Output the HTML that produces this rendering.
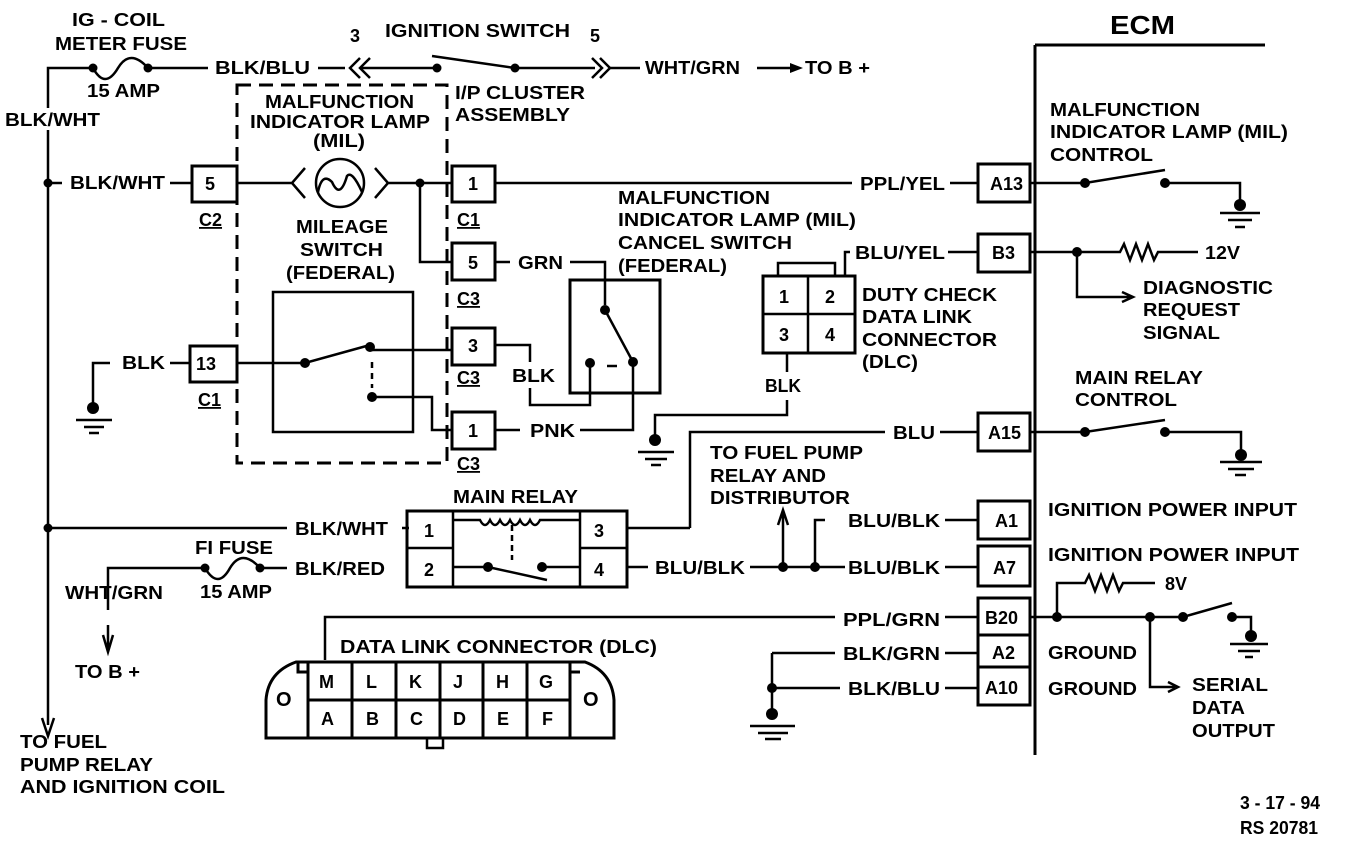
<!DOCTYPE html>
<html><head><meta charset="utf-8"><style>
html,body{margin:0;padding:0;background:#fff;}
svg text{font-family:"Liberation Sans",Arial,sans-serif;font-weight:bold;font-size:18px;fill:#000;}
</style></head><body>
<svg width="1360" height="844" viewBox="0 0 1360 844" xmlns="http://www.w3.org/2000/svg">
<g stroke="#000" stroke-width="2.5" fill="none">
<path d="M48 108 V68 H93"/>
<path d="M48 130 V725"/>
<path d="M42 718 L48 736 L54 718"/>
<path d="M93 68 Q105 90 118 68 Q130 48 148 68"/>
<path d="M148 68 H208"/>
<path d="M318 68 H345"/>
<path d="M360 58 L350 68 L360 78 M370 58 L360 68 L370 78"/>
<path d="M360 68 H437"/>
<path d="M432 56 L515 68"/>
<path d="M515 68 H595"/>
<path d="M592 58 L602 68 L592 78 M600 58 L610 68 L600 78"/>
<path d="M610 68 H640"/>
<path d="M757 68 H795"/>
<path d="M237 85 H447 V463 H237 Z" stroke-dasharray="14 8" stroke-width="3"/>
<path d="M48 183 H62"/>
<path d="M170 183 H192"/>
<rect x="192" y="166" width="45" height="36" stroke-width="3"/>
<path d="M237 183 H292 M305 168 L292 183 L305 198 M375 168 L388 183 L375 198 M388 183 H452"/>
<circle cx="340" cy="183" r="24"/>
<path d="M318 192 Q322 172 332 182 Q340 200 347 176 Q352 170 362 192"/>
<rect x="452" y="166" width="43" height="36" stroke-width="3"/>
<path d="M495 183 H852 M950 183 H978"/>
<rect x="978" y="164" width="52" height="38" stroke-width="3"/>
<path d="M420 183 V262 H452"/>
<rect x="452" y="243" width="43" height="37" stroke-width="3"/>
<path d="M495 262 H510 M570 262 H605 V305"/>
<rect x="273" y="292" width="140" height="140" stroke-width="2.5"/>
<path d="M93 405 V363 H110 M170 363 H190"/>
<rect x="190" y="346" width="47" height="36" stroke-width="3"/>
<path d="M237 363 H305 L370 345"/>
<path d="M372 350 H452"/>
<path d="M372 362 V388" stroke-dasharray="6 5"/>
<path d="M372 397 H432 V430 H452"/>
<rect x="452" y="328" width="43" height="37" stroke-width="3"/>
<rect x="452" y="412" width="43" height="37" stroke-width="3"/>
<path d="M495 345 H530 V362 M530 388 V405 H590 V363"/>
<path d="M495 430 H520 M580 430 H633 V362"/>
<rect x="570" y="280" width="90" height="113" stroke-width="3"/>
<path d="M605 310 L633 362"/>
<path d="M607 366 H617"/>
<path d="M76 420 H112 M84 427 H104 M89 433 H99"/>
<path d="M787 352 V372 M787 400 V415 H655 V440"/>
<path d="M638 452 H674 M645 459 H667 M651 465 H661"/>
<rect x="763" y="276" width="92" height="77" stroke-width="3"/>
<path d="M808 276 V353 M763 314 H855"/>
<path d="M778 276 V263 H835 V276"/>
<path d="M845 276 V252 H850 M948 252 H978"/>
<rect x="978" y="234" width="52" height="38" stroke-width="3"/>
<path d="M1035 45 H1265 M1035 45 V755" stroke-width="3"/>
<path d="M1030 183 H1085 L1165 170 M1165 183 H1240 V205"/>
<path d="M1220 213 H1260 M1228 220 H1252 M1235 227 H1245"/>
<path d="M1030 252 H1120 l4 -8 l6 16 l6 -16 l6 16 l6 -16 l6 16 l4 -8 H1198"/>
<path d="M1077 252 V297 H1130 M1122 292 L1133 297 L1122 302"/>
<path d="M690 528 V432 H885 M940 432 H978"/>
<rect x="978" y="413" width="52" height="38" stroke-width="3"/>
<path d="M1030 432 H1085 L1165 420 M1165 432 H1241 V455"/>
<path d="M1220 462 H1262 M1228 469 H1254 M1235 475 H1246"/>
<path d="M48 528 H287 M402 528 H409"/>
<rect x="407" y="511" width="220" height="76" stroke-width="3"/>
<path d="M453 511 V587 M580 511 V587 M407 548 H453 M580 548 H627"/>
<path d="M453 520 H480 q5 10 10 0 q5 10 10 0 q5 10 10 0 q5 10 10 0 q5 10 10 0 q5 10 10 0 H580"/>
<path d="M512 525 V560" stroke-dasharray="6 4"/>
<path d="M453 567 H488 L547 580 M542 567 H580"/>
<path d="M627 528 H690 M627 567 H648"/>
<path d="M108 610 V568 H205 M205 568 Q218 590 230 568 Q242 548 260 568 H287"/>
<path d="M108 625 V648 M103 635 L108 652 L113 635"/>
<path d="M750 567 H845 M783 567 V512 M778 525 L783 510 L788 525"/>
<path d="M815 567 V520 H825"/>
<path d="M945 520 H978"/>
<rect x="978" y="501" width="52" height="38" stroke-width="3"/>
<path d="M945 567 H978"/>
<rect x="978" y="546" width="52" height="40" stroke-width="3"/>
<path d="M325 660 V617 H835 M945 617 H978"/>
<rect x="978" y="598" width="52" height="37" stroke-width="3"/>
<rect x="978" y="635" width="52" height="32" stroke-width="3"/>
<rect x="978" y="667" width="52" height="38" stroke-width="3"/>
<path d="M1030 617 H1183 L1232 603 M1232 617 H1251 V636"/>
<path d="M1057 617 V583 H1085 l4 -8 l6 16 l6 -16 l6 16 l6 -16 l6 16 l4 -8 H1155"/>
<path d="M1230 644 H1268 M1238 651 H1260 M1245 657 H1253"/>
<path d="M1150 617 V687 H1175 M1168 682 L1178 687 L1168 692"/>
<path d="M772 653 H835 M945 653 H978 M772 653 V712 M772 688 H840 M945 688 H978"/>
<path d="M750 726 H795 M758 733 H788 M765 739 H781"/>
<path d="M308 662 H296 Q268 672 266 700 V738 H614 V700 Q612 672 585 662 H570" stroke-width="3"/>
<path d="M308 662 H570 M298 662 V672 H308 M570 662 V672 H580" stroke-width="3"/>
<path d="M308 662 V738 M352 662 V738 M396 662 V738 M440 662 V738 M483 662 V738 M527 662 V738 M570 662 V738 M308 700 H570" stroke-width="3"/>
<path d="M427 738 V748 H443 V738"/>
</g>
<g fill="#000">
<circle cx="93" cy="68" r="4.5"/><circle cx="148" cy="68" r="4.5"/><circle cx="437" cy="68" r="4.5"/><circle cx="515" cy="68" r="4.5"/>
<circle cx="48" cy="183" r="4.5"/><circle cx="420" cy="183" r="4.5"/>
<circle cx="305" cy="363" r="5"/><circle cx="370" cy="347" r="5"/><circle cx="372" cy="397" r="5"/>
<circle cx="605" cy="310" r="5"/><circle cx="633" cy="362" r="5"/><circle cx="590" cy="363" r="5"/>
<circle cx="93" cy="408" r="6"/><circle cx="655" cy="440" r="6"/>
<circle cx="1085" cy="183" r="5"/><circle cx="1165" cy="183" r="5"/><circle cx="1240" cy="205" r="6"/>
<circle cx="1077" cy="252" r="5"/>
<circle cx="1085" cy="432" r="5"/><circle cx="1165" cy="432" r="5"/><circle cx="1241" cy="455" r="6"/>
<circle cx="48" cy="528" r="4.5"/><circle cx="488" cy="567" r="5"/><circle cx="542" cy="567" r="5"/>
<circle cx="205" cy="568" r="4.5"/><circle cx="260" cy="568" r="4.5"/>
<circle cx="783" cy="567" r="5"/><circle cx="815" cy="567" r="5"/>
<circle cx="1057" cy="617" r="5"/><circle cx="1150" cy="617" r="5"/><circle cx="1183" cy="617" r="5"/><circle cx="1232" cy="617" r="5"/><circle cx="1251" cy="636" r="6"/>
<circle cx="772" cy="688" r="5"/><circle cx="772" cy="714" r="6"/>
<path d="M790 63 L803 68 L790 73 Z"/>
</g>
<g>
<text x="72" y="26" textLength="93" lengthAdjust="spacingAndGlyphs">IG - COIL</text>
<text x="55" y="50" textLength="132" lengthAdjust="spacingAndGlyphs">METER FUSE</text>
<text x="87" y="97" textLength="73" lengthAdjust="spacingAndGlyphs">15 AMP</text>
<text x="5" y="126" textLength="95" lengthAdjust="spacingAndGlyphs">BLK/WHT</text>
<text x="215" y="74" textLength="95" lengthAdjust="spacingAndGlyphs">BLK/BLU</text>
<text x="350" y="42">3</text>
<text x="385" y="37" textLength="185" lengthAdjust="spacingAndGlyphs">IGNITION SWITCH</text>
<text x="590" y="42">5</text>
<text x="645" y="74" textLength="95" lengthAdjust="spacingAndGlyphs">WHT/GRN</text>
<text x="805" y="74" textLength="65" lengthAdjust="spacingAndGlyphs">TO B +</text>
<text x="265" y="108" textLength="149" lengthAdjust="spacingAndGlyphs">MALFUNCTION</text>
<text x="250" y="128" textLength="180" lengthAdjust="spacingAndGlyphs">INDICATOR LAMP</text>
<text x="313" y="147" textLength="52" lengthAdjust="spacingAndGlyphs">(MIL)</text>
<text x="455" y="99" textLength="130" lengthAdjust="spacingAndGlyphs">I/P CLUSTER</text>
<text x="455" y="121" textLength="115" lengthAdjust="spacingAndGlyphs">ASSEMBLY</text>
<text x="70" y="189" textLength="95" lengthAdjust="spacingAndGlyphs">BLK/WHT</text>
<text x="205" y="190">5</text>
<text x="468" y="190">1</text>
<text x="199" y="226" text-decoration="underline">C2</text>
<text x="457" y="226" text-decoration="underline">C1</text>
<text x="296" y="233" textLength="92" lengthAdjust="spacingAndGlyphs">MILEAGE</text>
<text x="300" y="256" textLength="83" lengthAdjust="spacingAndGlyphs">SWITCH</text>
<text x="286" y="279" textLength="109" lengthAdjust="spacingAndGlyphs">(FEDERAL)</text>
<text x="468" y="269">5</text>
<text x="518" y="269" textLength="45" lengthAdjust="spacingAndGlyphs">GRN</text>
<text x="457" y="305" text-decoration="underline">C3</text>
<text x="468" y="352">3</text>
<text x="457" y="384" text-decoration="underline">C3</text>
<text x="468" y="437">1</text>
<text x="457" y="470" text-decoration="underline">C3</text>
<text x="122" y="369" textLength="43" lengthAdjust="spacingAndGlyphs">BLK</text>
<text x="196" y="370">13</text>
<text x="198" y="406" text-decoration="underline">C1</text>
<text x="512" y="382" textLength="43" lengthAdjust="spacingAndGlyphs">BLK</text>
<text x="530" y="437" textLength="45" lengthAdjust="spacingAndGlyphs">PNK</text>
<text x="618" y="204" textLength="152" lengthAdjust="spacingAndGlyphs">MALFUNCTION</text>
<text x="618" y="226" textLength="238" lengthAdjust="spacingAndGlyphs">INDICATOR LAMP (MIL)</text>
<text x="618" y="249" textLength="174" lengthAdjust="spacingAndGlyphs">CANCEL SWITCH</text>
<text x="618" y="272" textLength="109" lengthAdjust="spacingAndGlyphs">(FEDERAL)</text>
<text x="860" y="190" textLength="85" lengthAdjust="spacingAndGlyphs">PPL/YEL</text>
<text x="990" y="190">A13</text>
<text x="855" y="259" textLength="90" lengthAdjust="spacingAndGlyphs">BLU/YEL</text>
<text x="992" y="259">B3</text>
<text x="779" y="303">1</text>
<text x="825" y="303">2</text>
<text x="779" y="341">3</text>
<text x="825" y="341">4</text>
<text x="862" y="301" textLength="135" lengthAdjust="spacingAndGlyphs">DUTY CHECK</text>
<text x="862" y="323" textLength="110" lengthAdjust="spacingAndGlyphs">DATA LINK</text>
<text x="862" y="346" textLength="135" lengthAdjust="spacingAndGlyphs">CONNECTOR</text>
<text x="862" y="368" textLength="56" lengthAdjust="spacingAndGlyphs">(DLC)</text>
<text x="765" y="392" textLength="36" lengthAdjust="spacingAndGlyphs">BLK</text>
<text x="1110" y="34" style="font-size:26px" textLength="65" lengthAdjust="spacingAndGlyphs">ECM</text>
<text x="1050" y="116" textLength="150" lengthAdjust="spacingAndGlyphs">MALFUNCTION</text>
<text x="1050" y="138" textLength="238" lengthAdjust="spacingAndGlyphs">INDICATOR LAMP (MIL)</text>
<text x="1050" y="161" textLength="103" lengthAdjust="spacingAndGlyphs">CONTROL</text>
<text x="1205" y="259" textLength="35" lengthAdjust="spacingAndGlyphs">12V</text>
<text x="1143" y="294" textLength="130" lengthAdjust="spacingAndGlyphs">DIAGNOSTIC</text>
<text x="1143" y="316" textLength="97" lengthAdjust="spacingAndGlyphs">REQUEST</text>
<text x="1143" y="339" textLength="77" lengthAdjust="spacingAndGlyphs">SIGNAL</text>
<text x="1075" y="384" textLength="128" lengthAdjust="spacingAndGlyphs">MAIN RELAY</text>
<text x="1075" y="406" textLength="102" lengthAdjust="spacingAndGlyphs">CONTROL</text>
<text x="893" y="439" textLength="42" lengthAdjust="spacingAndGlyphs">BLU</text>
<text x="988" y="439">A15</text>
<text x="710" y="459" textLength="153" lengthAdjust="spacingAndGlyphs">TO FUEL PUMP</text>
<text x="710" y="482" textLength="116" lengthAdjust="spacingAndGlyphs">RELAY AND</text>
<text x="710" y="504" textLength="140" lengthAdjust="spacingAndGlyphs">DISTRIBUTOR</text>
<text x="453" y="503" textLength="125" lengthAdjust="spacingAndGlyphs">MAIN RELAY</text>
<text x="295" y="535" textLength="93" lengthAdjust="spacingAndGlyphs">BLK/WHT</text>
<text x="424" y="537">1</text>
<text x="594" y="537">3</text>
<text x="424" y="576">2</text>
<text x="594" y="576">4</text>
<text x="195" y="554" textLength="78" lengthAdjust="spacingAndGlyphs">FI FUSE</text>
<text x="295" y="575" textLength="90" lengthAdjust="spacingAndGlyphs">BLK/RED</text>
<text x="200" y="598" textLength="72" lengthAdjust="spacingAndGlyphs">15 AMP</text>
<text x="65" y="599" textLength="98" lengthAdjust="spacingAndGlyphs">WHT/GRN</text>
<text x="75" y="678" textLength="65" lengthAdjust="spacingAndGlyphs">TO B +</text>
<text x="655" y="574" textLength="90" lengthAdjust="spacingAndGlyphs">BLU/BLK</text>
<text x="848" y="527" textLength="92" lengthAdjust="spacingAndGlyphs">BLU/BLK</text>
<text x="848" y="574" textLength="92" lengthAdjust="spacingAndGlyphs">BLU/BLK</text>
<text x="995" y="527">A1</text>
<text x="993" y="574">A7</text>
<text x="1048" y="516" textLength="249" lengthAdjust="spacingAndGlyphs">IGNITION POWER INPUT</text>
<text x="1048" y="561" textLength="251" lengthAdjust="spacingAndGlyphs">IGNITION POWER INPUT</text>
<text x="1165" y="590">8V</text>
<text x="843" y="626" textLength="97" lengthAdjust="spacingAndGlyphs">PPL/GRN</text>
<text x="985" y="624">B20</text>
<text x="843" y="660" textLength="97" lengthAdjust="spacingAndGlyphs">BLK/GRN</text>
<text x="992" y="659">A2</text>
<text x="848" y="695" textLength="92" lengthAdjust="spacingAndGlyphs">BLK/BLU</text>
<text x="985" y="694">A10</text>
<text x="1048" y="659" textLength="89" lengthAdjust="spacingAndGlyphs">GROUND</text>
<text x="1048" y="695" textLength="89" lengthAdjust="spacingAndGlyphs">GROUND</text>
<text x="1192" y="691" textLength="76" lengthAdjust="spacingAndGlyphs">SERIAL</text>
<text x="1192" y="714" textLength="53" lengthAdjust="spacingAndGlyphs">DATA</text>
<text x="1192" y="737" textLength="83" lengthAdjust="spacingAndGlyphs">OUTPUT</text>
<text x="340" y="653" textLength="317" lengthAdjust="spacingAndGlyphs">DATA LINK CONNECTOR (DLC)</text>
<text x="319" y="688">M</text><text x="366" y="688">L</text><text x="409" y="688">K</text><text x="453" y="688">J</text><text x="496" y="688">H</text><text x="539" y="688">G</text>
<text x="321" y="725">A</text><text x="366" y="725">B</text><text x="410" y="725">C</text><text x="453" y="725">D</text><text x="497" y="725">E</text><text x="542" y="725">F</text>
<text x="276" y="706" style="font-size:20px">O</text>
<text x="583" y="706" style="font-size:20px">O</text>
<text x="20" y="748" textLength="87" lengthAdjust="spacingAndGlyphs">TO FUEL</text>
<text x="20" y="771" textLength="133" lengthAdjust="spacingAndGlyphs">PUMP RELAY</text>
<text x="20" y="793" textLength="205" lengthAdjust="spacingAndGlyphs">AND IGNITION COIL</text>
<text x="1240" y="809" textLength="80" lengthAdjust="spacingAndGlyphs">3 - 17 - 94</text>
<text x="1240" y="834" textLength="78" lengthAdjust="spacingAndGlyphs">RS 20781</text>
</g>
</svg>
</body></html>
